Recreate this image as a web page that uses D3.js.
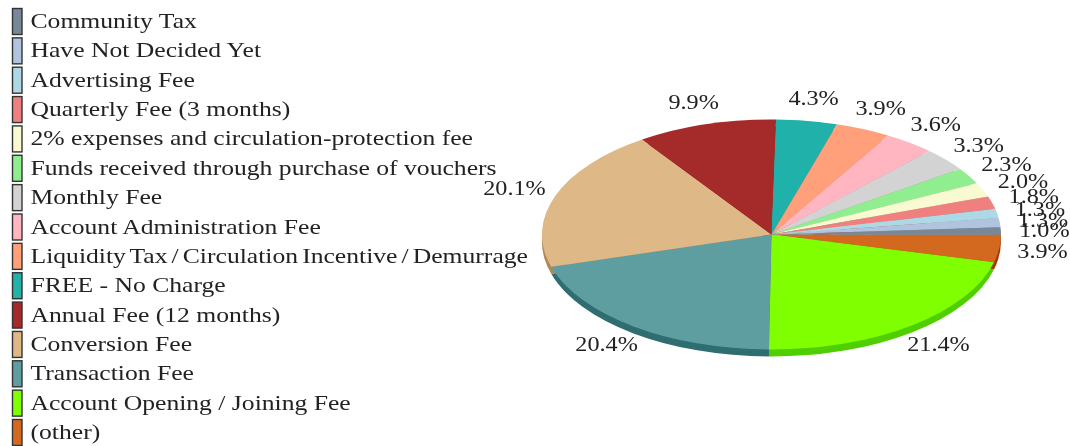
<!DOCTYPE html>
<html><head><meta charset="utf-8">
<script src="https://cdn.jsdelivr.net/npm/d3@7"></script>
<style>html,body{margin:0;background:#fff}svg{display:block}text{font-family:"Liberation Serif",serif;fill:#222}</style>
</head><body><svg id="c" width="1070" height="446"></svg>
<script>
const categories=["Community Tax","Have Not Decided Yet","Advertising Fee","Quarterly Fee (3 months)","2% expenses and circulation-protection fee","Funds received through purchase of vouchers","Monthly Fee","Account Administration Fee","Liquidity Tax / Circulation Incentive / Demurrage","FREE - No Charge","Annual Fee (12 months)","Conversion Fee","Transaction Fee","Account Opening / Joining Fee","(other)"];
const values=[1.0,1.3,1.3,1.8,2.0,2.3,3.3,3.6,3.9,4.3,9.9,20.1,20.4,21.4,3.9];
const colors=["#778899","#B0C4DE","#ADD8E6","#F08080","#FAFAD2","#90EE90","#D3D3D3","#FFB6C1","#FFA07A","#20B2AA","#A52A2A","#DEB887","#5F9EA0","#7FFF00","#D2691E"];
const svg=d3.select("#c");
const defs=svg.append("defs");
defs.append("filter").attr("id","soft").append("feGaussianBlur").attr("stdDeviation",0.45);
const rows=d3.scalePoint().domain(categories).range([21,432]);
const legend=svg.append("g").attr("filter","url(#soft)");
const row=legend.selectAll("g").data(categories).join("g").attr("transform",d=>`translate(0,${rows(d)})`);
row.append("rect").attr("x",12.5).attr("y",-12.5).attr("width",9.5).attr("height",26)
 .attr("fill",(d,i)=>colors[i]).attr("stroke","#333").attr("stroke-width",1.4);
row.append("text").attr("transform","translate(30.5,7) scale(1.165,1)").attr("font-size",22)
 .attr("word-spacing",d=>d.split(" / ").length>2?-2:0).text(d=>d);
// Pie: clockwise from 3 o'clock, "(other)" first, so the reversed legend order
const order=d3.range(values.length).reverse();
const pie=d3.pie().sort(null).value(i=>values[i]).startAngle(Math.PI/2).endAngle(Math.PI*2.5);
const arcs=pie(order);
const cx=771.5,cy=234.5,rx=229.5,ry=115,depth=7;
const arc=d3.arc().innerRadius(0).outerRadius(1);
const shade=c=>{const k=d3.rgb(c);return d3.rgb(k.r-48,k.g-48,k.b-48).formatHex();};
const g=svg.append("g");
const side=g.append("g").attr("transform",`translate(${cx},${cy+depth}) scale(${rx},${ry})`);
side.selectAll("path").data(arcs).join("path").attr("d",arc).attr("fill",d=>shade(colors[d.data]));
const top_=g.append("g").attr("transform",`translate(${cx},${cy}) scale(${rx},${ry})`);
top_.selectAll("path").data(arcs).join("path").attr("d",arc).attr("fill",d=>colors[d.data]);
const lrx=273,lry=138;
svg.append("g").attr("filter","url(#soft)").selectAll("text").data(arcs).join("text")
 .attr("transform",d=>{const a=(d.startAngle+d.endAngle)/2;
   return `translate(${cx+lrx*Math.sin(a)},${cy+7-lry*Math.cos(a)}) scale(1.1,1)`;})
 .attr("text-anchor","middle").attr("font-size",22)
 .text(d=>values[d.data].toFixed(1)+"%");
</script></body></html>
